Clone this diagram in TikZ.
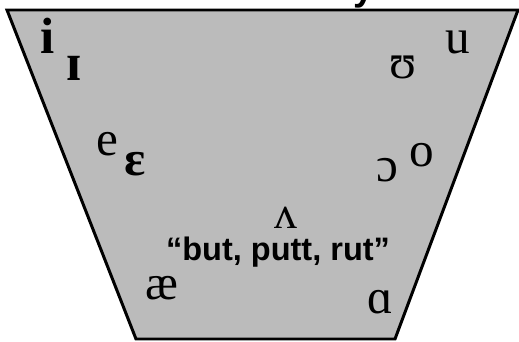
\documentclass[tikz,border=0pt]{standalone}
\usepackage{fontspec}
\setmainfont{Liberation Serif}
\newfontfamily\glossfont{Liberation Sans}
\definecolor{chartgray}{RGB}{187,187,187}

\begin{document}
\begin{tikzpicture}[x=0.2mm, y=-0.2mm,
  vowel/.style={font=\fontsize{28}{30}\selectfont, inner sep=0pt, anchor=base},
  lax/.style={vowel, font=\fontsize{30}{32}\selectfont\bfseries},
  gloss/.style={font=\glossfont\bfseries\fontsize{18.5}{20}\selectfont, inner sep=0pt, anchor=base}]

\useasboundingbox (0,0) rectangle (519,341);

\coordinate (tl) at (7,10);
\coordinate (tr) at (518,10);
\coordinate (br) at (395,339);
\coordinate (bl) at (136,339);

\draw[line width=1.7pt, fill=chartgray] (tl) -- (tr) -- (br) -- (bl) -- cycle;

\begin{scope}
\clip (0,0) rectangle (519,341);
\node[gloss, font=\glossfont\bfseries\fontsize{21}{22}\selectfont] (cut) at (364,0) {y};
\end{scope}

\node[vowel, font=\fontsize{29}{30}\selectfont\bfseries] (i) at (48,53) {i};
\node[lax] (ih) at (74,80) {ɪ};
\node[vowel] (u) at (458,53) {u};
\node[vowel] (uh) at (403,78) {ʊ};

\node[vowel] (e) at (107,155) {e};
\node[lax, font=\fontsize{28}{30}\selectfont\bfseries] (eh) at (135,175) {ɛ};
\node[vowel] (oh) at (387,181) {ɔ};
\node[vowel] (o) at (422,166) {o};

\node[vowel, font=\fontsize{26}{28}\selectfont] (wedge) at (286,228) {ʌ};
\node[gloss] (but) at (278,260) {“but, putt, rut”};

\node[vowel] (ae) at (162,299) {æ};
\node[vowel] (a) at (380,313) {ɑ};

\end{tikzpicture}
\end{document}
